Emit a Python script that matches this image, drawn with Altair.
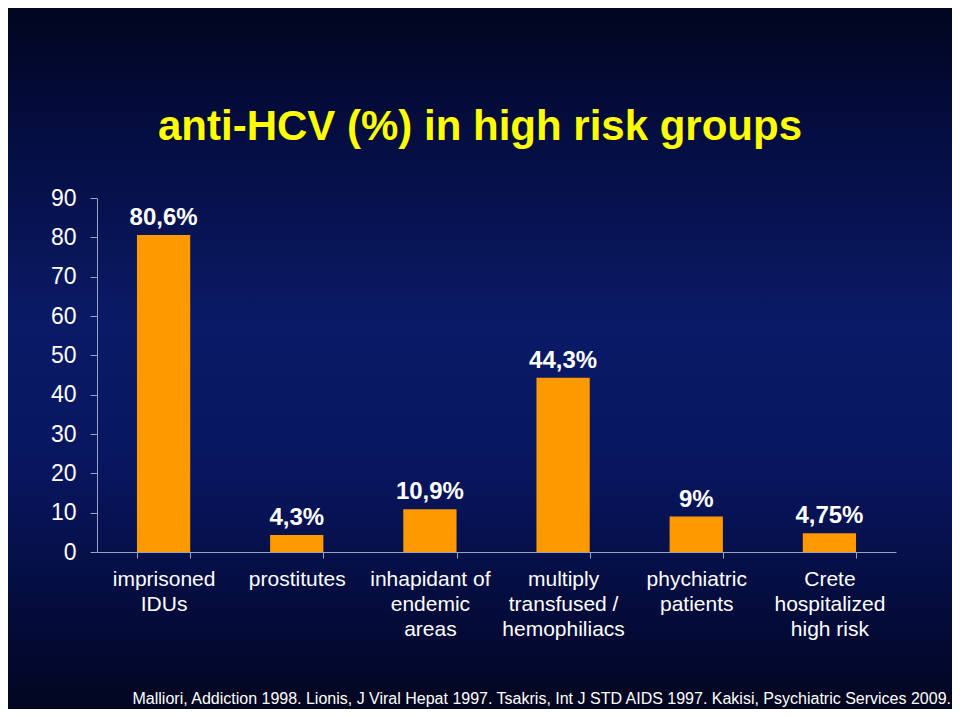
import altair as alt
import pandas as pd

categories = [
    "imprisoned\nIDUs",
    "prostitutes",
    "inhapidant of\nendemic\nareas",
    "multiply\ntransfused /\nhemophiliacs",
    "phychiatric\npatients",
    "Crete\nhospitalized\nhigh risk",
]
values = [80.6, 4.3, 10.9, 44.3, 9, 4.75]
value_labels = ["80,6%", "4,3%", "10,9%", "44,3%", "9%", "4,75%"]
y_ticks = [0, 10, 20, 30, 40, 50, 60, 70, 80, 90]
title_text = "anti-HCV (%) in high risk groups"
footer_text = ("Malliori, Addiction 1998. Lionis, J Viral Hepat 1997. "
               "Tsakris, Int J STD AIDS 1997. Kakisi, Psychiatric Services 2009.")

df = pd.DataFrame({"group": categories, "value": values, "label": value_labels})
FONT = "Liberation Sans, Arial, sans-serif"
AXIS_COL = "#9aa3c4"

bg = alt.Chart(pd.DataFrame({"a": [0]})).mark_rect(
    color=alt.LinearGradient(
        gradient="linear",
        stops=[
            alt.GradientStop(color="#01051d", offset=0),
            alt.GradientStop(color="#040c3c", offset=0.15),
            alt.GradientStop(color="#0a1a66", offset=0.45),
            alt.GradientStop(color="#081660", offset=0.65),
            alt.GradientStop(color="#040b38", offset=0.88),
            alt.GradientStop(color="#02061f", offset=1),
        ],
        x1=0, x2=0, y1=0, y2=1,
    )
).encode(x=alt.value(-89), x2=alt.value(855), y=alt.value(-190), y2=alt.value(511))

x_enc = alt.X(
    "group:N",
    sort=categories,
    scale=alt.Scale(paddingInner=0.6, paddingOuter=0.3),
    axis=alt.Axis(
        title=None,
        labelAngle=0,
        labelFontSize=21,
        labelFont=FONT,
        labelColor="white",
        labelLineHeight=25,
        labelExpr="split(datum.label, '\\n')",
        labelBaseline="top",
        labelPadding=10,
        tickBand="extent",
        tickSize=6,
        tickColor=AXIS_COL,
        domainColor=AXIS_COL,
        labelLimit=300,
        labelOverlap=False,
        zindex=1,
    ),
)

y_enc = alt.Y(
    "value:Q",
    scale=alt.Scale(domain=[0, 90], nice=False),
    axis=alt.Axis(
        title=None,
        values=y_ticks,
        tickCount=10,
        grid=False,
        labelFontSize=23,
        labelFont=FONT,
        labelColor="white",
        labelPadding=14,
        labelOverlap=False,
        labelFlush=False,
        tickSize=7,
        tickColor=AXIS_COL,
        domainColor=AXIS_COL,
        zindex=1,
    ),
)

bars = alt.Chart(df).mark_bar(color="#FF9900").encode(x=x_enc, y=y_enc)

texts = alt.Chart(df).mark_text(
    dy=-10, baseline="alphabetic", fontSize=24, fontWeight="bold",
    color="white", font=FONT,
).encode(x=x_enc, y=y_enc, text="label:N")

title = alt.Chart(pd.DataFrame({"t": [title_text]})).mark_text(
    align="center", baseline="alphabetic", fontSize=42, fontWeight="bold",
    color="#FFFF00", font=FONT,
).encode(text="t:N", x=alt.value(383), y=alt.value(-58))

footer = alt.Chart(pd.DataFrame({"t": [footer_text]})).mark_text(
    align="right", baseline="alphabetic", fontSize=16, color="white", font=FONT,
).encode(text="t:N", x=alt.value(854), y=alt.value(506))

chart = alt.layer(bg, bars, texts, title, footer).properties(
    width=799,
    height=354,
    padding={"left": 89, "top": 190, "right": 56, "bottom": 157},
    autosize=alt.AutoSizeParams(type="none"),
).configure(background="#040b38").configure_view(stroke=None)

chart.save("out.html", embed_options={"renderer": "svg", "actions": False})
